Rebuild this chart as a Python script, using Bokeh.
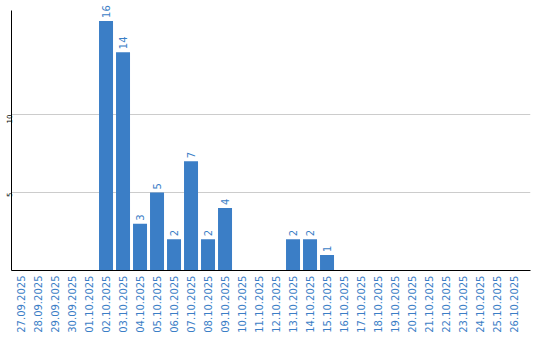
import math
from bokeh.plotting import figure
from bokeh.models import ColumnDataSource, FixedTicker, Range1d, LabelSet
from bokeh.core.properties import value
from bokeh.embed import file_html
from bokeh.resources import INLINE

dates = ["27.09.2025", "28.09.2025", "29.09.2025", "30.09.2025", "01.10.2025",
         "02.10.2025", "03.10.2025", "04.10.2025", "05.10.2025", "06.10.2025",
         "07.10.2025", "08.10.2025", "09.10.2025", "10.10.2025", "11.10.2025",
         "12.10.2025", "13.10.2025", "14.10.2025", "15.10.2025", "16.10.2025",
         "17.10.2025", "18.10.2025", "19.10.2025", "20.10.2025", "21.10.2025",
         "22.10.2025", "23.10.2025", "24.10.2025", "25.10.2025", "26.10.2025"]
counts = [0, 0, 0, 0, 0, 16, 14, 3, 5, 2, 7, 2, 4, 0, 0, 0, 2, 2, 1, 0,
          0, 0, 0, 0, 0, 0, 0, 0, 0, 0]
y_ticks = [5, 10]

BLUE = "#3b7ec6"
Y_AXIS_TOP = 16.67

idx = list(range(len(dates)))
src = ColumnDataSource(dict(x=idx, top=counts))
lab_x = [i for i, c in zip(idx, counts) if c > 0]
lab_y = [c for c in counts if c > 0]
lab_t = [str(c) for c in counts if c > 0]
lab_src = ColumnDataSource(dict(x=lab_x, y=lab_y, t=lab_t))

p = figure(width=540, height=340, output_backend="svg", toolbar_location=None,
           x_range=Range1d(-0.56, -0.56 + 519 / 17),
           y_range=Range1d(0, Y_AXIS_TOP * 270 / 260),
           min_border_left=10, min_border_right=10, min_border_top=0,
           min_border_bottom=70)
p.outline_line_color = None
p.background_fill_color = "white"
p.border_fill_color = "white"

p.vbar(x="x", top="top", width=14 / 17, source=src, fill_color=BLUE,
       line_color=None)
labels = LabelSet(x="x", y="y", text="t", source=lab_src, angle=math.pi / 2,
                  text_align="left", text_baseline="middle", y_offset=3,
                  text_color=BLUE, text_font=value("DejaVu Sans"),
                  text_font_size=value("10px"))
p.add_layout(labels)

p.xaxis.ticker = FixedTicker(ticks=idx)
p.xaxis.major_label_overrides = {i: d for i, d in zip(idx, dates)}
p.xaxis.major_label_orientation = math.pi / 2
p.xaxis.major_label_text_color = BLUE
p.xaxis.major_label_text_font = "DejaVu Sans"
p.xaxis.major_label_text_font_size = "10px"
p.xaxis.major_label_standoff = 5
p.xaxis.major_tick_out = 0
p.xaxis.major_tick_in = 0
p.xaxis.minor_tick_out = 0
p.xaxis.minor_tick_in = 0
p.xaxis.major_tick_line_color = None
p.xaxis.minor_tick_line_color = None
p.xaxis.axis_line_color = "black"

p.yaxis.ticker = FixedTicker(ticks=y_ticks)
p.yaxis.bounds = (0, Y_AXIS_TOP)
p.yaxis.major_label_orientation = math.pi / 2
p.yaxis.major_label_text_color = "black"
p.yaxis.major_label_text_font = "DejaVu Sans"
p.yaxis.major_label_text_font_size = "7px"
p.yaxis.major_label_standoff = 2
p.yaxis.major_tick_out = 0
p.yaxis.major_tick_in = 0
p.yaxis.minor_tick_out = 0
p.yaxis.minor_tick_in = 0
p.yaxis.major_tick_line_color = None
p.yaxis.minor_tick_line_color = None
p.yaxis.axis_line_color = "black"

p.xgrid.grid_line_color = None
p.ygrid.ticker = FixedTicker(ticks=y_ticks)
p.ygrid.grid_line_color = "#cccccc"

open("out.html", "w").write(file_html(p, INLINE))
